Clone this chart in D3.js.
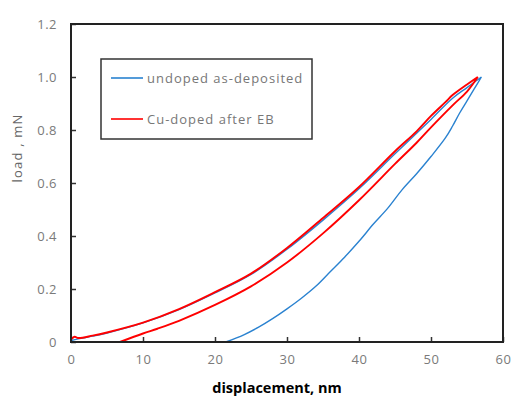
<!DOCTYPE html>
<html>
<head>
<meta charset="utf-8">
<title>load - displacement</title>
<style>
body {
    margin: 0px;
    overflow: hidden;
    background: #fff;
}
text {
    font-family: "Open Sans", "DejaVu Sans", sans-serif;
}
</style>
<script src="https://cdnjs.cloudflare.com/ajax/libs/d3/7.8.5/d3.min.js"></script>
</head>
<body>
<div id="chart"></div>
<script>

// displacement (nm) / load (mN)
var blueLoadX   = [0, 1, 3, 5, 10, 15, 20, 25, 30, 35, 40, 45, 50, 53, 55, 57];
var blueLoadY   = [0.005, 0.012, 0.022, 0.034, 0.072, 0.122, 0.185, 0.255, 0.35, 0.46, 0.578, 0.71, 0.84, 0.92, 0.96, 1.0];
var blueUnloadX = [57, 56, 55, 54, 53, 52, 50, 48, 46, 44, 42, 40, 38, 36, 34, 32, 30, 28, 26, 24, 21.5];
var blueUnloadY = [1.0, 0.955, 0.91, 0.865, 0.815, 0.77, 0.7, 0.635, 0.575, 0.505, 0.445, 0.38, 0.32, 0.265, 0.21, 0.165, 0.125, 0.088, 0.055, 0.027, 0];

var redLoadX   = [0, 0.5, 1, 3, 5, 10, 15, 20, 25, 30, 35, 40, 45, 48, 50, 52, 53, 55, 56.5];
var redLoadY   = [0.01, 0.02, 0.015, 0.024, 0.036, 0.073, 0.124, 0.188, 0.258, 0.355, 0.468, 0.585, 0.72, 0.795, 0.853, 0.905, 0.932, 0.972, 1.0];
var redUnloadX = [56.5, 55, 53, 50, 48, 45, 40, 35, 30, 25, 20, 15, 12, 10, 6.8];
var redUnloadY = [1.0, 0.945, 0.893, 0.81, 0.752, 0.672, 0.535, 0.41, 0.3, 0.21, 0.14, 0.08, 0.05, 0.032, 0];

var xTicks = [0, 10, 20, 30, 40, 50, 60];
var yTicks = [0, 0.2, 0.4, 0.6, 0.8, 1.0, 1.2];

var seriesNames  = ["undoped as-deposited", "Cu-doped after EB"];
var seriesColors = ["#2a82d0", "#ff0000"];

var width = 532, height = 401;
var margin = {left: 71, right: 29, top: 24, bottom: 59};

var svg = d3.select("#chart").append("svg")
        .attr("width", width)
        .attr("height", height);

var x = d3.scaleLinear().domain([0, 60]).range([margin.left, width - margin.right]);
var y = d3.scaleLinear().domain([0, 1.2]).range([height - margin.bottom, margin.top]);

// axes, ticks on the inside
var xAxis = svg.append("g")
        .attr("transform", "translate(0," + (height - margin.bottom) + ")")
        .call(d3.axisBottom(x).tickValues(xTicks).tickSizeInner(-5).tickSizeOuter(0).tickPadding(13)
            .tickFormat(d3.format("d")));
var yAxis = svg.append("g")
        .attr("transform", "translate(" + margin.left + ",0)")
        .call(d3.axisLeft(y).tickValues(yTicks).tickSizeInner(-5).tickSizeOuter(0).tickPadding(14)
            .tickFormat(function (d) { return d === 0 ? "0" : d3.format(".1f")(d); }));

[xAxis, yAxis].forEach(function (g) {
    g.select(".domain").remove();
    g.selectAll(".tick line").attr("stroke", "#333").attr("stroke-width", 1.5);
    g.selectAll(".tick text").attr("fill", "#7a7a7a")
        .style("font-size", "13px").style("letter-spacing", "0.5px");
});

function makeLine(xs, ys) {
    return xs.map(function (d, i) { return [d, ys[i]]; });
}

var line = d3.line()
        .curve(d3.curveCatmullRom.alpha(0.5))
        .x(function (d) { return x(d[0]); })
        .y(function (d) { return y(d[1]); });

var blue = makeLine(blueLoadX, blueLoadY).concat(makeLine(blueUnloadX, blueUnloadY));
var red = makeLine(redLoadX, redLoadY).concat(makeLine(redUnloadX, redUnloadY));

svg.append("path")
    .attr("d", line(blue))
    .attr("fill", "none")
    .attr("stroke", seriesColors[0])
    .attr("stroke-width", 1.4);

svg.append("path")
    .attr("d", line(red))
    .attr("fill", "none")
    .attr("stroke", seriesColors[1])
    .attr("stroke-width", 1.9);

// plot frame
svg.append("rect")
    .attr("x", x(0))
    .attr("y", y(1.2))
    .attr("width", x(60) - x(0))
    .attr("height", y(0) - y(1.2))
    .attr("fill", "none")
    .attr("stroke", "#222")
    .attr("stroke-width", 2);

// axis titles
svg.append("text")
    .attr("x", 277)
    .attr("y", 393)
    .attr("text-anchor", "middle")
    .attr("font-weight", "bold")
    .style("font-size", "14.5px")
    .attr("fill", "#000")
    .text("displacement, nm");

svg.append("text")
    .attr("transform", "translate(22,148) rotate(-90)")
    .attr("text-anchor", "middle")
    .style("font-size", "13px")
    .style("letter-spacing", "1.2px")
    .attr("fill", "#666")
    .text("load , mN");

// legend
var legend = svg.append("g");
legend.append("rect")
    .attr("x", 101)
    .attr("y", 59)
    .attr("width", 211)
    .attr("height", 80)
    .attr("fill", "#fff")
    .attr("stroke", "#333")
    .attr("stroke-width", 1.5);

seriesNames.forEach(function (name, i) {
    var ly = 78 + i * 41;
    legend.append("line")
        .attr("x1", 111).attr("x2", 143)
        .attr("y1", ly).attr("y2", ly)
        .attr("stroke", seriesColors[i])
        .attr("stroke-width", 1.6);
    legend.append("text")
        .attr("x", 147)
        .attr("y", ly + 4.5)
        .style("font-size", "13px")
        .style("letter-spacing", "1px")
        .attr("fill", "#777")
        .text(name);
});

</script>
</body>
</html>
